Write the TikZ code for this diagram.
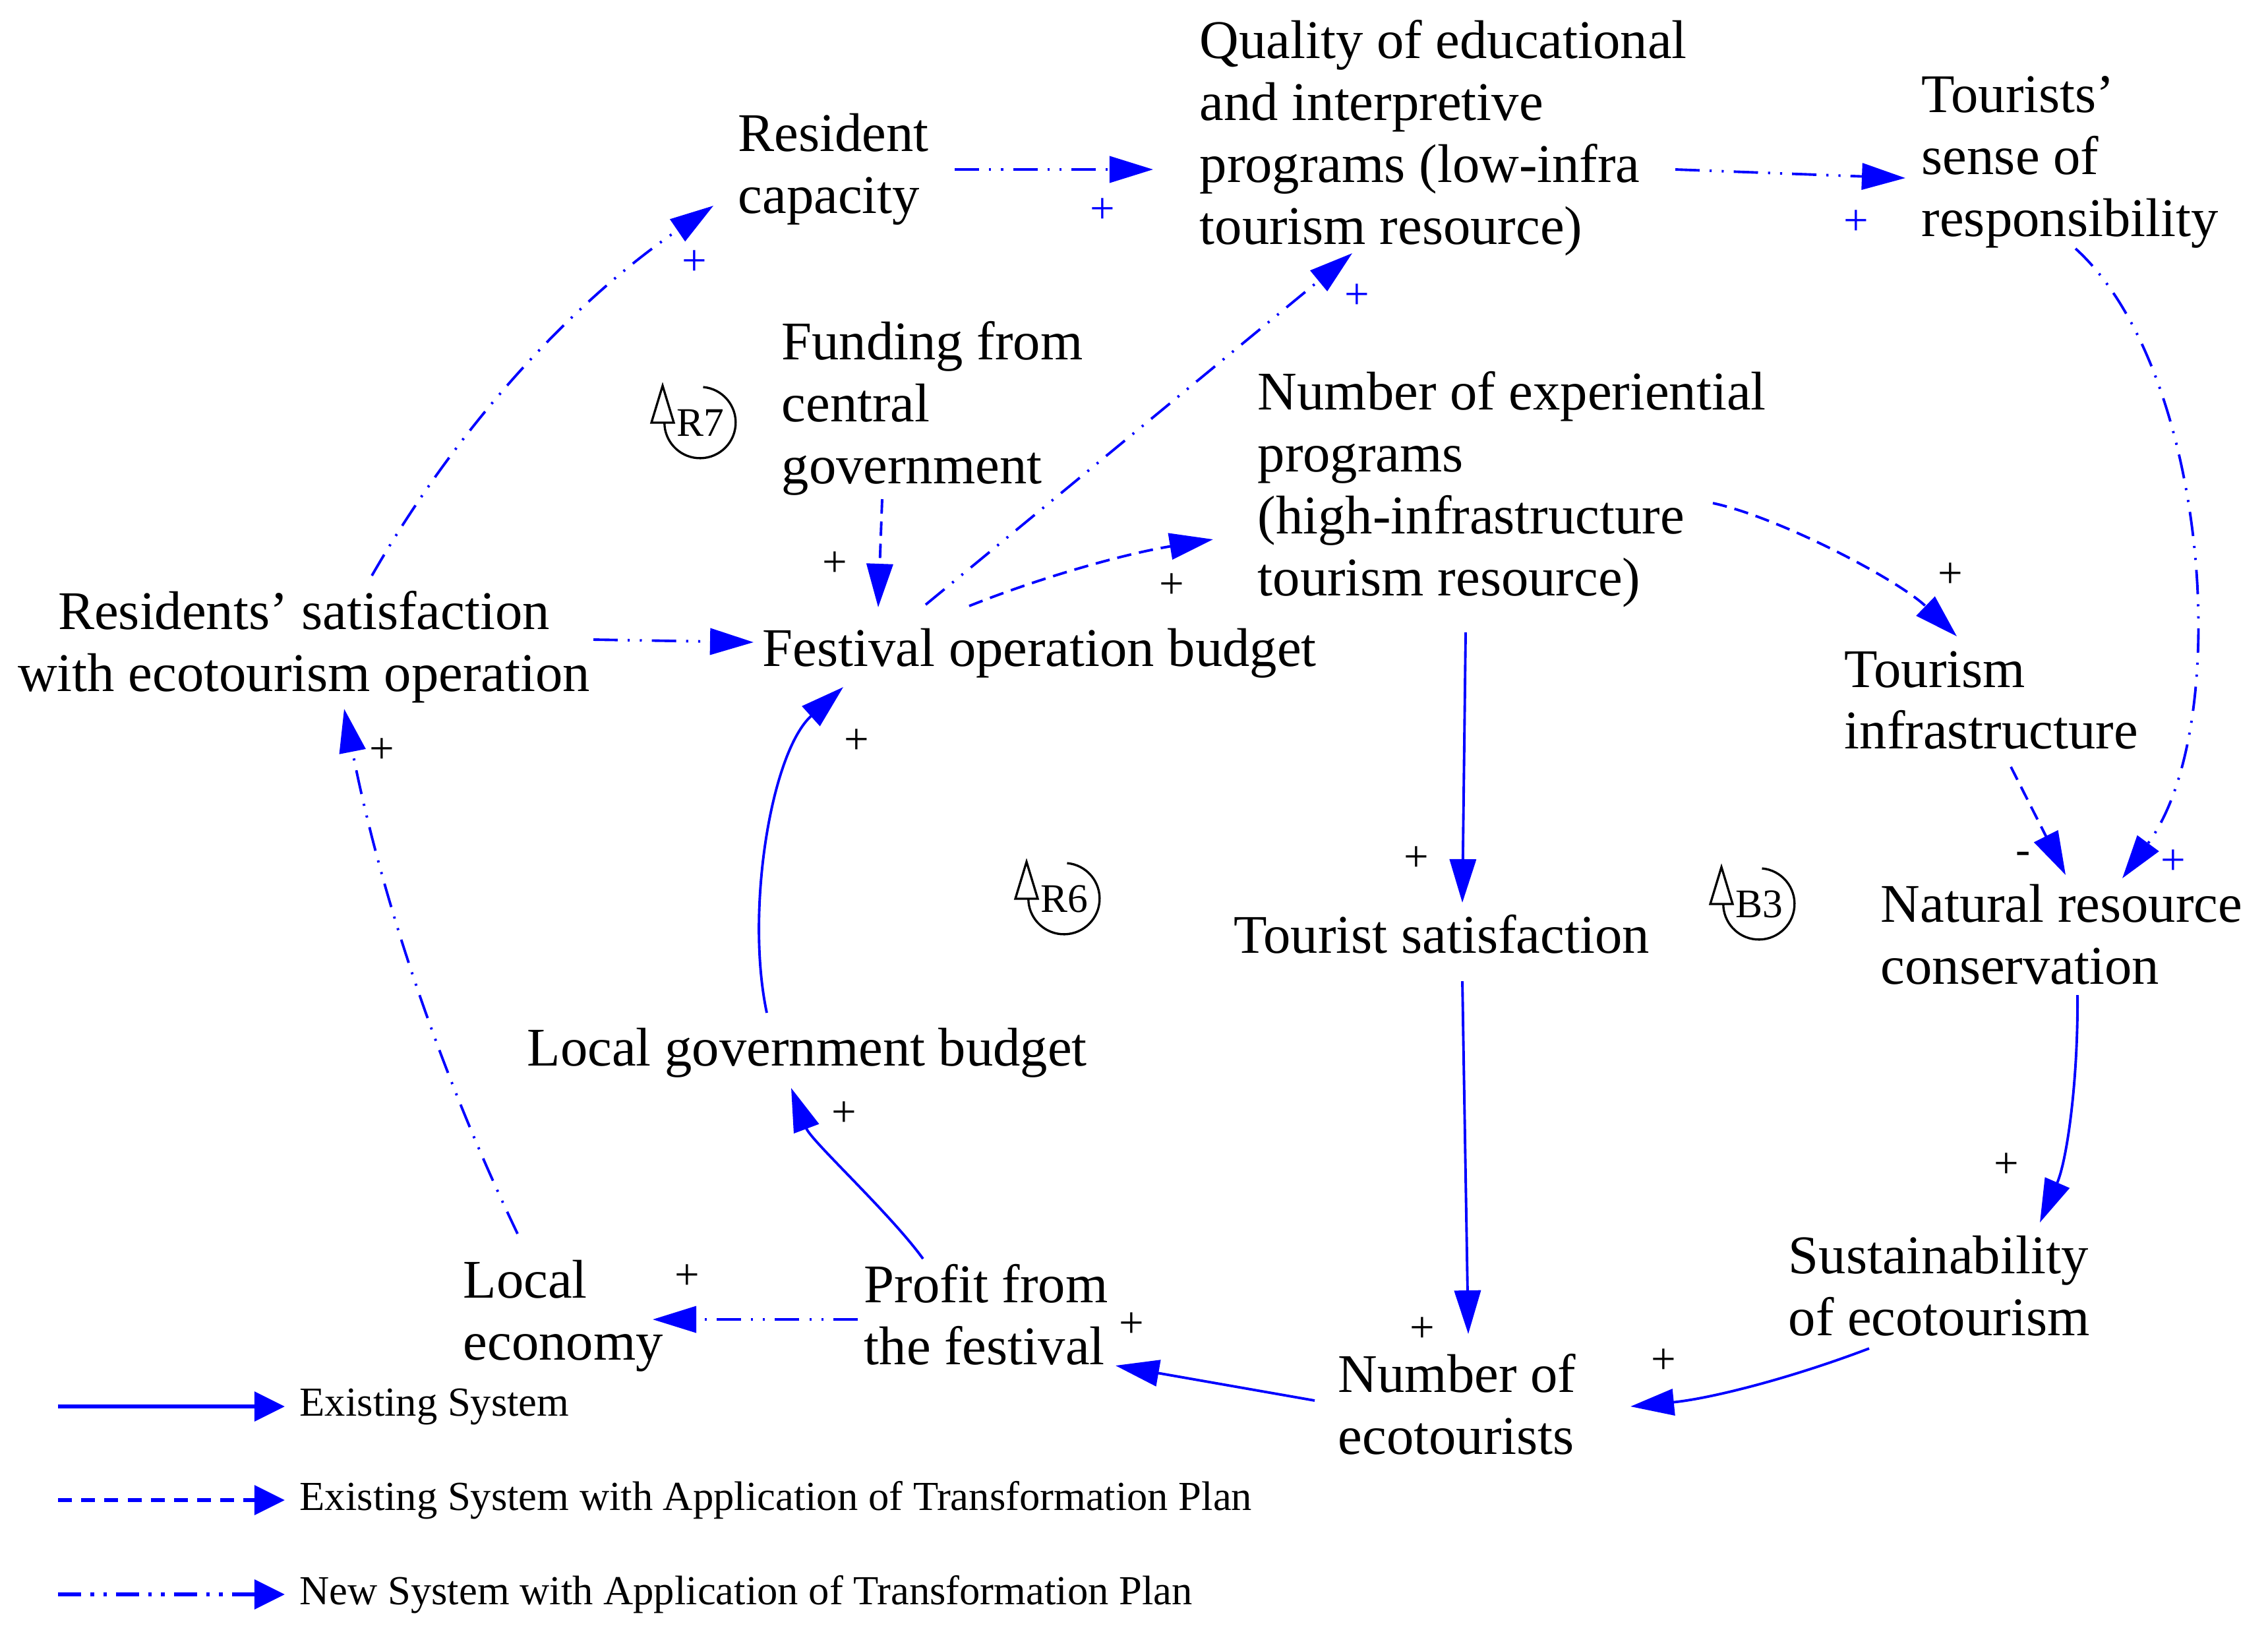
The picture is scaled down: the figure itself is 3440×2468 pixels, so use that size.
\documentclass[tikz,border=0pt]{standalone}
\usepackage{fontspec}
\setmainfont{Liberation Serif}
\usetikzlibrary{arrows.meta,calc}
\definecolor{cblue}{RGB}{0,0,255}
% node reference points (pixel units of the 3440x2468 canvas)
\def\xrescap{1119}\def\yrescap{257}
\def\xquality{1819}\def\yquality{209}
\def\xtsense{2914}\def\ytsense{246}
\def\xfunding{1185}\def\yfunding{619}
\def\xnumexp{1907}\def\ynumexp{742}
\def\xressat{461}\def\yressat{981}
\def\xfestival{1156}\def\yfestival{991}
\def\xtinfra{2797}\def\ytinfra{1062}
\def\xtoursat{1871}\def\ytoursat{1417}
\def\xnatres{2852}\def\ynatres{1417}
\def\xlgb{799}\def\ylgb{1597}
\def\xsustain{2712}\def\ysustain{1950}
\def\xloceco{702}\def\yloceco{1996}
\def\xprofit{1310}\def\yprofit{1994}
\def\xnumeco{2029}\def\ynumeco{2130}
\begin{document}
\begin{tikzpicture}[x=0.01cm,y=-0.01cm,
  lbl/.style={inner sep=0pt, anchor=west, align=left, font=\fontsize{23.5}{26.7}\selectfont},
  conn/.style={draw=cblue, line width=1.1pt, -{Triangle[length=0.66cm,width=0.40cm]}},
  solidc/.style={conn},
  dashc/.style={conn, dash pattern=on 6.2pt off 3.4pt},
  ddc/.style={conn, dash pattern=on 10.5pt off 4.3pt on 0.9pt off 4.3pt on 0.9pt off 4.3pt},
  pol/.style={font=\fontsize{19}{19}\selectfont, inner sep=0pt},
  bpol/.style={pol, text=cblue},
  looplbl/.style={font=\fontsize{17.5}{17.5}\selectfont, inner sep=0pt},
  loopline/.style={draw=black, line width=0.95pt},
  legc/.style={draw=cblue, line width=1.8pt, -{Triangle[length=0.46cm,width=0.44cm]}},
  legtxt/.style={inner sep=0pt, anchor=west, font=\fontsize{17.8}{20}\selectfont},
]
\useasboundingbox (0,0) rectangle (3440,2468);

% ---- variables
\node[lbl] (rescap) at (\xrescap,\yrescap) {Resident\\capacity};
\node[lbl] (quality) at (\xquality,\yquality) {Quality of educational\\and interpretive\\programs (low-infra\\tourism resource)};
\node[lbl] (tsense) at (\xtsense,\ytsense) {Tourists’\\sense of\\responsibility};
\node[lbl] (funding) at (\xfunding,\yfunding) {Funding from\\central\\government};
\node[lbl] (numexp) at (\xnumexp,\ynumexp) {Number of experiential\\programs\\(high-infrastructure\\tourism resource)};
\node[lbl, anchor=center, align=center] (ressat) at (\xressat,\yressat) {Residents’ satisfaction\\with ecotourism operation};
\node[lbl] (festival) at (\xfestival,\yfestival) {Festival operation budget};
\node[lbl] (tinfra) at (\xtinfra,\ytinfra) {Tourism\\infrastructure};
\node[lbl] (toursat) at (\xtoursat,\ytoursat) {Tourist satisfaction};
\node[lbl] (natres) at (\xnatres,\ynatres) {Natural resource\\conservation};
\node[lbl] (lgb) at (\xlgb,\ylgb) {Local government budget};
\node[lbl] (sustain) at (\xsustain,\ysustain) {Sustainability\\of ecotourism};
\node[lbl] (loceco) at (\xloceco,\yloceco) {Local\\economy};
\node[lbl] (profit) at (\xprofit,\yprofit) {Profit from\\the festival};
\node[lbl] (numeco) at (\xnumeco,\ynumeco) {Number of\\ecotourists};

% ---- connectors
\draw[ddc] ([shift={(564-\xressat,873-\yressat)}]ressat.center) .. controls (694,647) and (866,460) .. ([shift={(1082-\xrescap,312-\yrescap)}]rescap.west);
\draw[ddc] ([shift={(1448-\xrescap,257-\yrescap)}]rescap.west) -- ([shift={(1749-\xquality,257-\yquality)}]quality.west);
\draw[ddc] ([shift={(2541-\xquality,257-\yquality)}]quality.west) -- ([shift={(2890-\xtsense,270-\ytsense)}]tsense.west);
\draw[ddc] ([shift={(3148-\xtsense,377-\ytsense)}]tsense.west) .. controls (3350,560) and (3390,1100) .. ([shift={(3219-\xnatres,1332-\ynatres)}]natres.west);
\draw[ddc] ([shift={(1404-\xfestival,917-\yfestival)}]festival.west) -- ([shift={(2051-\xquality,384-\yquality)}]quality.west);
\draw[dashc] ([shift={(1338-\xfunding,757-\yfunding)}]funding.west) -- ([shift={(1332-\xfestival,921-\yfestival)}]festival.west);
\draw[dashc] ([shift={(1470-\xfestival,919-\yfestival)}]festival.west) .. controls (1588,872) and (1711,839) .. ([shift={(1840-\xnumexp,818-\ynumexp)}]numexp.west);
\draw[ddc] ([shift={(900-\xressat,970-\yressat)}]ressat.center) -- ([shift={(1143-\xfestival,974-\yfestival)}]festival.west);
\draw[dashc] ([shift={(2598-\xnumexp,763-\ynumexp)}]numexp.west) .. controls (2700,785) and (2880,880) .. ([shift={(2968-\xtinfra,965-\ytinfra)}]tinfra.west);
\draw[dashc] ([shift={(3050-\xtinfra,1163-\ytinfra)}]tinfra.west) -- ([shift={(3133-\xnatres,1327-\ynatres)}]natres.west);
\draw[solidc] ([shift={(2223-\xnumexp,959-\ynumexp)}]numexp.west) -- ([shift={(2218-\xtoursat,1369-\ytoursat)}]toursat.west);
\draw[solidc] ([shift={(2218-\xtoursat,1488-\ytoursat)}]toursat.west) -- ([shift={(2227-\xnumeco,2023-\ynumeco)}]numeco.west);
\draw[solidc] ([shift={(3151-\xnatres,1509-\ynatres)}]natres.west) .. controls (3152,1640) and (3135,1760) .. ([shift={(3094-\xsustain,1854-\ysustain)}]sustain.west);
\draw[solidc] ([shift={(2835-\xsustain,2045-\ysustain)}]sustain.west) .. controls (2714,2091) and (2594,2121) .. ([shift={(2473-\xnumeco,2133-\ynumeco)}]numeco.west);
\draw[solidc] ([shift={(1994-\xnumeco,2124-\ynumeco)}]numeco.west) -- ([shift={(1692-\xprofit,2071-\yprofit)}]profit.west);
\draw[solidc] ([shift={(1400-\xprofit,1909-\yprofit)}]profit.west) .. controls (1350,1840) and (1230,1730) .. ([shift={(1200-\xlgb,1650-\ylgb)}]lgb.west);
\draw[ddc] ([shift={(1301-\xprofit,2001-\yprofit)}]profit.west) -- ([shift={(990-\xloceco,2001-\yloceco)}]loceco.west);
\draw[ddc] ([shift={(785-\xloceco,1871-\yloceco)}]loceco.west) .. controls (663,1617) and (576,1351) .. ([shift={(522-\xressat,1075-\yressat)}]ressat.center);
\draw[solidc] ([shift={(1163-\xlgb,1536-\ylgb)}]lgb.west) .. controls (1130,1380) and (1170,1140) .. ([shift={(1279-\xfestival,1042-\yfestival)}]festival.west);

% ---- polarities
\node[bpol] (p1) at (1053,399) {+};
\node[bpol] (p2) at (1672,320) {+};
\node[bpol] (p3) at (2815,338) {+};
\node[bpol] (p4) at (3296,1308) {+};
\node[bpol] (p5) at (2058,450) {+};
\node[pol] (p6) at (1266,856) {+};
\node[pol] (p7) at (1777,889) {+};
\node[pol] (p8) at (2958,873) {+};
\node[pol] (p9) at (3069,1301) {-};
\node[pol] (p10) at (2148,1303) {+};
\node[pol] (p11) at (2157,2017) {+};
\node[pol] (p12) at (3043,1768) {+};
\node[pol] (p13) at (2523,2065) {+};
\node[pol] (p14) at (1716,2010) {+};
\node[pol] (p15) at (1280,1690) {+};
\node[pol] (p16) at (1042,1937) {+};
\node[pol] (p17) at (579,1139) {+};
\node[pol] (p18) at (1299,1125) {+};

% ---- loop markers
\foreach \nm/\tx/\px/\py in {r7/R7/1062/641, r6/R6/1614/1363, b3/B3/2668/1371}{
  \node[looplbl] (\nm) at (\px,\py) {\tx};
  \draw[loopline] ([shift={(4.5,-54)}]\nm.center) arc[start angle=85, end angle=-180, radius=0.54cm];
  \draw[loopline, fill=white] ([shift={(-74,0)}]\nm.center) -- ([shift={(-40,0)}]\nm.center) -- ([shift={(-57,-56)}]\nm.center) -- cycle;
}

% ---- legend
\node[legtxt] (leg1) at (454,2133) {Existing System};
\node[legtxt] (leg2) at (454,2275) {Existing System with Application of Transformation Plan};
\node[legtxt] (leg3) at (454,2418) {New System with Application of Transformation Plan};
\coordinate (l1s) at (88,2133);
\coordinate (l2s) at (88,2275);
\coordinate (l3s) at (88,2418);
\draw[legc] (l1s) -- ([xshift=-0.22cm]leg1.west);
\draw[legc, dash pattern=on 6pt off 4pt] (l2s) -- ([xshift=-0.22cm]leg2.west);
\draw[legc, dash pattern=on 10pt off 4pt on 1.5pt off 4pt on 1.5pt off 4pt] (l3s) -- ([xshift=-0.22cm]leg3.west);
\end{tikzpicture}
\end{document}
